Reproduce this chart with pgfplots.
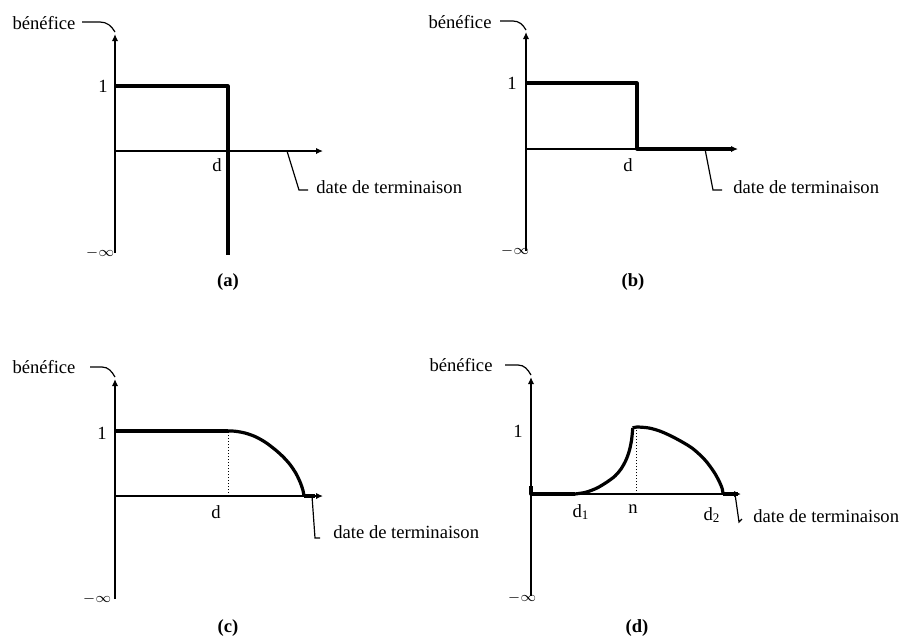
\documentclass[border=0pt]{standalone}
\usepackage{pgfplots}
\pgfplotsset{compat=1.18}
\usepackage{fontspec}
\setmainfont{Liberation Serif}
\usetikzlibrary{arrows.meta}
\pgfplotsset{
  panel/.style={
    anchor=origin, x=0.5pt, y=0.5pt, enlargelimits=false,
    axis x line=middle, axis y line=left,
    xtick=\empty, ytick=\empty, clip=false,
    axis line style={line width=0.8pt,-{Latex[length=3.5pt,width=3.2pt]}},
  },
  thickc/.style={black, line width=1.6pt, line join=round, line cap=butt},
}
\tikzset{
  lead/.style={line width=0.6pt, black},
  inf/.style={font=\scriptsize},
  dt/.style={anchor=west, inner sep=0pt},
}
\begin{document}
\fontsize{9.3}{11}\selectfont
\begin{tikzpicture}
\useasboundingbox (0,0) rectangle (451.5pt,-319.5pt);
% ---------------- (a)
\begin{axis}[panel, at={(57.5pt,-75.5pt)}, xmin=0, xmax=208, ymin=-102, ymax=117]
\addplot[thickc] coordinates {(0,65) (113,65) (113,-104)};
\node at (axis cs:-12,65) {1};
\node at (axis cs:102,-14) {d};
\node[inf] at (axis cs:-15,-102) {$-\infty$};
\node at (axis cs:-71,128) {bénéfice};
\draw[lead] (axis cs:-33,129) -- (axis cs:-15,129) to[out=0,in=120] (axis cs:0,119);
\draw[lead] (axis cs:172,0) -- (axis cs:184,-39) -- (axis cs:193,-39);
\node[dt] at (axis cs:201,-36) {date de terminaison};
\node at (axis cs:113,-131) {\textbf{(a)}};
\end{axis}
% ---------------- (b)
\begin{axis}[panel, at={(263pt,-74.5pt)}, xmin=0, xmax=212, ymin=-102, ymax=117]
\addplot[thickc] coordinates {(0,66) (111,66) (111,0) (205,0)};
\node at (axis cs:-14,66) {1};
\node at (axis cs:102,-16) {d};
\node[inf] at (axis cs:-11,-102) {$-\infty$};
\node at (axis cs:-66,127) {bénéfice};
\draw[lead] (axis cs:-26,128) -- (axis cs:-13,128) to[out=0,in=120] (axis cs:0,119);
\draw[lead] (axis cs:179,0) -- (axis cs:187,-41) -- (axis cs:196,-41);
\node[dt] at (axis cs:207,-38) {date de terminaison};
\node at (axis cs:107,-133) {\textbf{(b)}};
\end{axis}
% ---------------- (c)
\begin{axis}[panel, at={(57.5pt,-248pt)}, xmin=0, xmax=208, ymin=-103, ymax=117]
\addplot[thickc] coordinates {(0,65) (113,65)};
\addplot[thickc, smooth] coordinates {(113,65) (120,64.8) (130,63) (140,59.5) (150,54) (160,46.5) (168,39.3) (175,31.5) (181,22.5) (185.5,13) (188,5.5) (189,0)};
\addplot[thickc] coordinates {(189,0) (200,0)};
\addplot[black, line width=0.5pt, densely dotted] coordinates {(113,0) (113,65)};
\node at (axis cs:-13,63) {1};
\node at (axis cs:101,-16) {d};
\node[inf] at (axis cs:-18,-103) {$-\infty$};
\node at (axis cs:-71,129) {bénéfice};
\draw[lead] (axis cs:-25,129) -- (axis cs:-13,129) to[out=0,in=120] (axis cs:0,119);
\draw[lead] (axis cs:197,0) -- (axis cs:200,-42) -- (axis cs:205,-42);
\node[dt] at (axis cs:218,-36) {date de terminaison};
\node at (axis cs:113,-132) {\textbf{(c)}};
\end{axis}
% ---------------- (d)
\begin{axis}[panel, at={(265.5pt,-247pt)}, xmin=0, xmax=210, ymin=-102, ymax=117]
\addplot[thickc] coordinates {(0,8) (0,0) (44,0)};
\addplot[thickc, smooth] coordinates {(44,0) (55,1.8) (66,6) (76,12) (84,18) (90,25) (95,34) (98.5,44) (100.7,55) (101.7,66)};
\addplot[thickc, smooth] coordinates {(101.7,66) (106,67) (118,66) (130,62.5) (144,56) (161,46) (174,34) (183,22) (188.5,12) (191.3,5) (192,0)};
\addplot[thickc] coordinates {(192,0) (207,0)};
\addplot[black, line width=0.5pt, densely dotted] coordinates {(105,0) (105,66)};
\node at (axis cs:-13,63) {1};
\node at (axis cs:50,-18) {d\textsubscript{1}};
\node at (axis cs:102,-15) {n};
\node at (axis cs:181,-21) {d\textsubscript{2}};
\node[inf] at (axis cs:-9,-104) {$-\infty$};
\node at (axis cs:-70,129) {bénéfice};
\draw[lead] (axis cs:-26,129) -- (axis cs:-13,129) to[out=0,in=120] (axis cs:0,119);
\draw[lead] (axis cs:204,0) -- (axis cs:208,-28) -- (axis cs:211,-25);
\node[dt] at (axis cs:222,-22) {date de terminaison};
\node at (axis cs:106,-134) {\textbf{(d)}};
\end{axis}
\end{tikzpicture}
\end{document}
